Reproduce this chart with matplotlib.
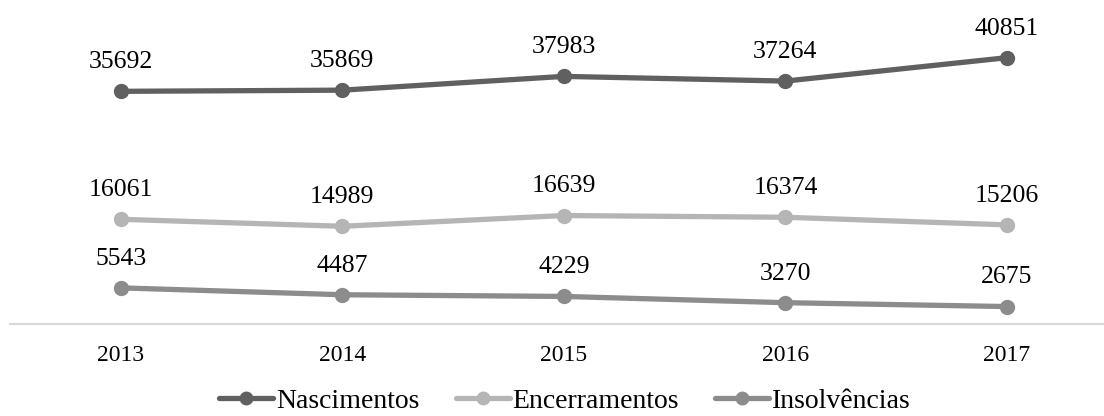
import matplotlib
matplotlib.use("Agg")
import matplotlib.pyplot as plt

# ----- DATA -----
years = ["2013", "2014", "2015", "2016", "2017"]
nascimentos = [35692, 35869, 37983, 37264, 40851]
encerramentos = [16061, 14989, 16639, 16374, 15206]
insolvencias = [5543, 4487, 4229, 3270, 2675]

series = [
    ("Nascimentos", nascimentos, "#606060"),
    ("Encerramentos", encerramentos, "#b5b5b5"),
    ("Insolvências", insolvencias, "#8c8c8c"),
]

plt.rcParams["font.family"] = ["Liberation Serif", "DejaVu Serif"]

fig = plt.figure(figsize=(11.04, 4.16), dpi=100)
ax = fig.add_axes([10 / 1104, 92 / 416, 1 - 10 / 1104, 324 / 416])

x = list(range(len(years)))
for name, values, color in series:
    ax.plot(x, values, color=color, linewidth=3.8, marker="o", markersize=10,
            solid_capstyle="round", label=name)
    # value labels centred above each point
    for xi, v in zip(x, values):
        ax.annotate(str(v), (xi, v), xytext=(0, 21), textcoords="offset points",
                    ha="center", va="center", fontsize=18.5, color="black")

ax.set_xlim(-0.5, (1104 - 121) / 221.5)
ax.set_ylim(0, 49700)
ax.set_xticks(x)
ax.set_xticklabels(years, fontsize=17)
ax.set_yticks([])
ax.tick_params(axis="x", length=0, pad=15)

for side in ["top", "right", "left"]:
    ax.spines[side].set_visible(False)
ax.spines["bottom"].set_color("#d9d9d9")
ax.spines["bottom"].set_linewidth(1.5)
ax.patch.set_alpha(0)

fig.legend(loc="center", bbox_to_anchor=(565 / 1104, 15 / 416), ncol=3, frameon=False,
           fontsize=20, handlelength=1.95, handletextpad=0.1, columnspacing=1.3,
           markerscale=0.9, borderaxespad=0)

fig.savefig("out.png", dpi=100)
